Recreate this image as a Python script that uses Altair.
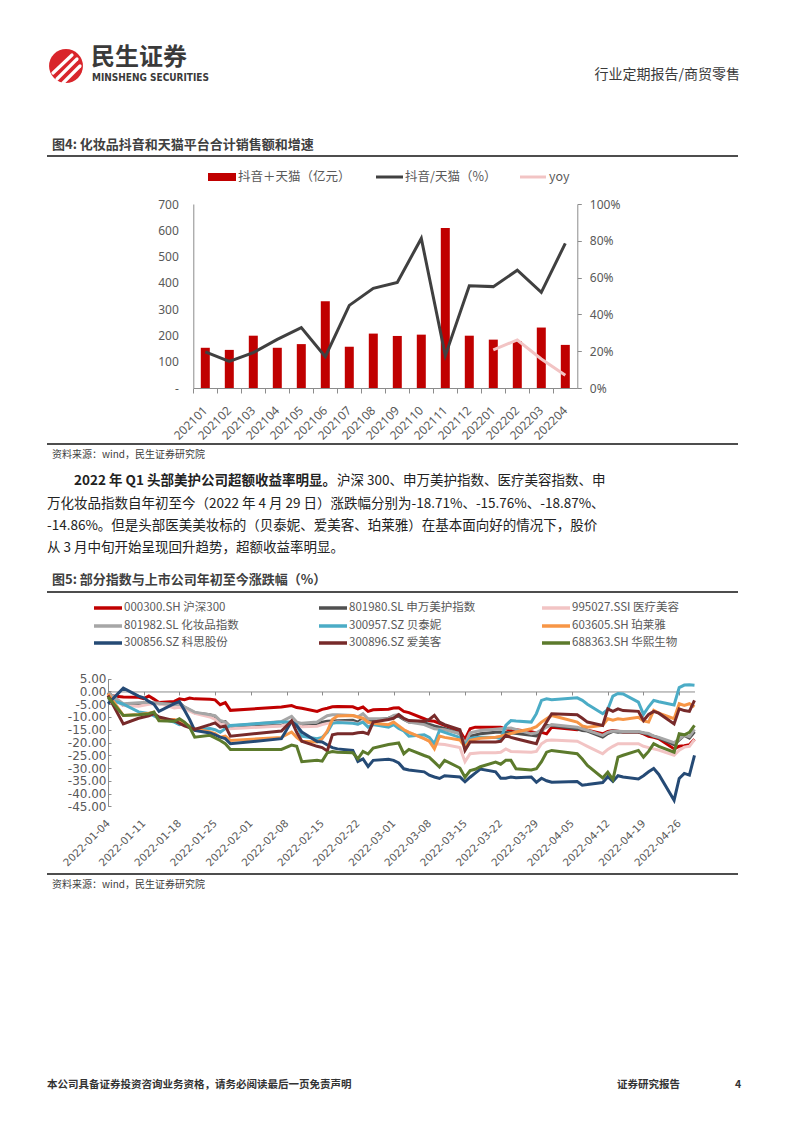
import altair as alt
import pandas as pd

W, H = 778, 1107
CN = "Noto Sans CJK SC"

# ---------------- Figure 4 data ----------------
months = ["202101", "202102", "202103", "202104", "202105", "202106", "202107", "202108",
          "202109", "202110", "202111", "202112", "202201", "202202", "202203", "202204"]
sales = [153, 145, 199, 153, 167, 330, 157, 207, 198, 203, 609, 199, 184, 178, 230, 164]
share = [19.6, 14.5, 19.2, 26.4, 32.8, 17.0, 44.9, 54.2, 57.4, 81.3, 17.6, 55.6, 55.1, 64.0, 52.0, 78.6]
yoy_months = ["202201", "202202", "202203", "202204"]
yoy = [20.7, 26.1, 15.8, 6.9]
left_ticks = [0, 100, 200, 300, 400, 500, 600, 700]
right_ticks = [0, 20, 40, 60, 80, 100]
legend4 = ["抖音＋天猫（亿元）", "抖音/天猫（%）", "yoy"]

# ---------------- Figure 5 data ----------------
series_names = ["000300.SH 沪深300", "801980.SL 申万美护指数", "995027.SSI 医疗美容",
                "801982.SL 化妆品指数", "300957.SZ 贝泰妮", "603605.SH 珀莱雅",
                "300856.SZ 科思股份", "300896.SZ 爱美客", "688363.SH 华熙生物"]
series_colors = ["#c00000", "#505050", "#f2c4c4", "#a6a6a6", "#4bacc6", "#f79646",
                 "#254a75", "#772a2a", "#5c7a2c"]

s_000300 = [("01-04", -1.6), ("01-07", -2.2), ("01-10", -2.3), ("01-11", -2.8), ("01-12", -1.8), ("01-13", -3.0),
            ("01-14", -4.3), ("01-17", -3.9), ("01-18", -2.9), ("01-19", -3.2), ("01-20", -2.6), ("01-21", -2.9),
            ("01-24", -3.1), ("01-25", -3.3), ("01-26", -5.2), ("01-27", -4.4), ("01-28", -7.4), ("02-07", -6.1),
            ("02-09", -5.5), ("02-10", -6.3), ("02-11", -6.6), ("02-14", -7.8), ("02-15", -7.0), ("02-16", -6.6),
            ("02-17", -6.0), ("02-18", -5.9), ("02-21", -6.0), ("02-22", -6.8), ("02-23", -6.1), ("02-24", -7.8),
            ("02-25", -7.2), ("02-28", -7.0), ("03-01", -6.5), ("03-02", -6.4), ("03-03", -7.8), ("03-04", -8.3),
            ("03-07", -10.7), ("03-08", -11.5), ("03-09", -11.7), ("03-10", -12.5), ("03-11", -13.3), ("03-14", -15.5),
            ("03-15", -18.8), ("03-16", -14.6), ("03-17", -14.0), ("03-18", -14.0), ("03-21", -14.0), ("03-22", -14.0),
            ("03-24", -15.3), ("03-25", -15.0), ("03-28", -15.8), ("03-29", -16.3), ("03-30", -16.0), ("03-31", -16.6),
            ("04-01", -14.0), ("04-06", -15.0), ("04-07", -14.6), ("04-08", -15.2), ("04-11", -16.6), ("04-12", -15.7),
            ("04-13", -15.3), ("04-14", -15.6), ("04-15", -15.9), ("04-18", -15.9), ("04-19", -16.6), ("04-20", -17.6),
            ("04-21", -18.0), ("04-22", -18.5), ("04-25", -22.5), ("04-26", -21.5), ("04-27", -21.3), ("04-28", -20.9),
            ("04-29", -18.7)]
s_801980 = [("01-04", -0.4), ("01-07", -5.5), ("01-10", -4.8), ("01-12", -4.3), ("01-14", -4.8), ("01-17", -4.8),
            ("01-18", -4.4), ("01-19", -6.2), ("01-21", -8.4), ("01-24", -9.1), ("01-25", -10.0), ("01-26", -12.0),
            ("01-27", -11.8), ("01-28", -14.0), ("02-07", -13.3), ("02-09", -11.8), ("02-10", -13.2), ("02-11", -13.3),
            ("02-14", -13.0), ("02-15", -12.0), ("02-16", -11.7), ("02-18", -11.5), ("02-21", -11.3), ("02-22", -12.0),
            ("02-23", -10.6), ("02-24", -12.0), ("02-25", -11.4), ("02-28", -10.5), ("03-01", -9.7), ("03-02", -9.7),
            ("03-03", -11.0), ("03-04", -12.0), ("03-07", -12.3), ("03-09", -13.5), ("03-11", -14.5), ("03-14", -16.5),
            ("03-15", -21.0), ("03-16", -17.6), ("03-18", -16.6), ("03-21", -16.0), ("03-22", -15.9), ("03-24", -16.2),
            ("03-28", -17.2), ("03-29", -17.4), ("03-30", -15.6), ("03-31", -13.3), ("04-01", -13.3), ("04-06", -14.6),
            ("04-07", -15.3), ("04-08", -15.5), ("04-11", -17.9), ("04-12", -16.5), ("04-13", -15.6), ("04-14", -16.0),
            ("04-15", -15.8), ("04-18", -15.9), ("04-19", -16.3), ("04-20", -16.9), ("04-21", -17.5), ("04-22", -18.2),
            ("04-25", -20.9), ("04-26", -19.0), ("04-27", -17.2), ("04-28", -18.3), ("04-29", -15.8)]
s_995027 = [("01-04", -1.0), ("01-07", -5.5), ("01-10", -5.8), ("01-12", -5.0), ("01-14", -4.6), ("01-17", -6.5),
            ("01-18", -6.2), ("01-19", -6.8), ("01-21", -8.6), ("01-24", -10.0), ("01-25", -11.0), ("01-26", -12.7),
            ("01-27", -13.0), ("01-28", -14.6), ("02-07", -13.5), ("02-09", -12.0), ("02-10", -13.0), ("02-11", -13.8),
            ("02-14", -13.6), ("02-15", -13.0), ("02-16", -12.5), ("02-18", -12.0), ("02-21", -12.2), ("02-22", -12.8),
            ("02-23", -11.4), ("02-24", -13.8), ("02-25", -13.0), ("02-28", -13.0), ("03-01", -12.5), ("03-02", -13.5),
            ("03-03", -15.0), ("03-04", -16.0), ("03-07", -18.5), ("03-09", -20.5), ("03-11", -20.8), ("03-14", -22.0),
            ("03-15", -27.5), ("03-16", -24.4), ("03-18", -24.0), ("03-21", -24.0), ("03-22", -23.8), ("03-23", -22.5),
            ("03-24", -23.5), ("03-28", -23.8), ("03-29", -23.5), ("03-30", -20.5), ("03-31", -19.2), ("04-01", -19.0),
            ("04-06", -19.5), ("04-07", -20.5), ("04-08", -21.5), ("04-11", -24.4), ("04-12", -22.7), ("04-13", -21.5),
            ("04-14", -20.5), ("04-15", -20.5), ("04-18", -20.5), ("04-19", -21.5), ("04-20", -22.0), ("04-21", -22.5),
            ("04-22", -23.0), ("04-25", -25.0), ("04-26", -23.0), ("04-27", -21.8), ("04-28", -21.5), ("04-29", -18.9)]
s_801982 = [("01-04", -0.5), ("01-07", -4.8), ("01-10", -4.4), ("01-12", -4.2), ("01-14", -4.6), ("01-17", -5.2),
            ("01-18", -5.0), ("01-19", -6.0), ("01-21", -8.1), ("01-24", -9.1), ("01-25", -9.5), ("01-26", -11.4),
            ("01-27", -12.0), ("01-28", -13.5), ("02-07", -11.8), ("02-09", -9.8), ("02-10", -12.0), ("02-11", -12.5),
            ("02-14", -12.0), ("02-15", -10.7), ("02-16", -9.5), ("02-17", -9.1), ("02-18", -9.1), ("02-21", -9.4),
            ("02-22", -10.0), ("02-23", -8.7), ("02-24", -10.7), ("02-25", -10.7), ("02-28", -10.7), ("03-01", -9.4),
            ("03-02", -9.1), ("03-03", -10.7), ("03-04", -12.0), ("03-07", -13.0), ("03-09", -14.6), ("03-11", -15.0),
            ("03-14", -16.5), ("03-15", -20.5), ("03-16", -16.2), ("03-18", -15.3), ("03-21", -14.8), ("03-22", -14.6),
            ("03-24", -14.3), ("03-28", -16.6), ("03-29", -16.2), ("03-30", -15.0), ("03-31", -14.0), ("04-01", -13.0),
            ("04-06", -14.0), ("04-07", -14.6), ("04-08", -15.2), ("04-11", -17.2), ("04-12", -16.0), ("04-13", -15.5),
            ("04-14", -15.6), ("04-15", -15.7), ("04-18", -15.7), ("04-19", -16.2), ("04-20", -16.5), ("04-21", -17.5),
            ("04-22", -18.0), ("04-25", -20.1), ("04-26", -18.6), ("04-27", -17.2), ("04-28", -17.7), ("04-29", -14.9)]
s_300957 = [("01-04", -2.9), ("01-07", -5.0), ("01-10", -8.0), ("01-12", -8.6), ("01-14", -10.5), ("01-17", -12.0),
            ("01-18", -13.0), ("01-19", -12.5), ("01-20", -14.0), ("01-21", -14.9), ("01-24", -14.5), ("01-25", -15.0),
            ("01-26", -16.0), ("01-27", -14.5), ("01-28", -13.3), ("02-07", -12.0), ("02-09", -12.0), ("02-10", -13.0),
            ("02-11", -17.5), ("02-14", -18.5), ("02-15", -18.0), ("02-16", -16.0), ("02-17", -12.5), ("02-18", -12.2),
            ("02-21", -12.5), ("02-22", -12.8), ("02-23", -12.0), ("02-24", -14.0), ("02-25", -13.0), ("02-28", -14.0),
            ("03-01", -13.0), ("03-02", -14.5), ("03-03", -15.5), ("03-04", -17.5), ("03-07", -17.0), ("03-08", -18.0),
            ("03-09", -20.5), ("03-10", -15.3), ("03-11", -16.0), ("03-14", -18.0), ("03-15", -21.0), ("03-16", -18.5),
            ("03-17", -18.0), ("03-18", -17.9), ("03-21", -18.0), ("03-22", -18.5), ("03-23", -13.3), ("03-24", -11.4),
            ("03-25", -11.6), ("03-28", -12.0), ("03-29", -8.7), ("03-30", -3.5), ("03-31", -2.9), ("04-01", -3.2),
            ("04-06", -2.5), ("04-07", -3.5), ("04-08", -5.0), ("04-11", -8.7), ("04-12", -7.0), ("04-13", -1.8),
            ("04-14", -0.8), ("04-15", -1.0), ("04-18", -4.2), ("04-19", -9.0), ("04-20", -6.0), ("04-21", -3.5),
            ("04-22", -4.0), ("04-25", -5.3), ("04-26", 1.5), ("04-27", 2.5), ("04-28", 2.6), ("04-29", 2.4)]
s_603605 = [("01-04", -0.9), ("01-07", -9.4), ("01-10", -9.0), ("01-12", -8.5), ("01-13", -8.1), ("01-14", -11.4),
            ("01-17", -11.0), ("01-19", -12.5), ("01-21", -14.6), ("01-24", -15.9), ("01-25", -16.5), ("01-26", -17.9),
            ("01-27", -17.5), ("01-28", -19.2), ("02-07", -18.0), ("02-09", -15.9), ("02-10", -18.0), ("02-11", -19.5),
            ("02-14", -19.8), ("02-15", -18.5), ("02-16", -15.5), ("02-17", -11.0), ("02-18", -9.6), ("02-21", -9.4),
            ("02-22", -10.0), ("02-23", -10.5), ("02-24", -12.0), ("02-25", -12.5), ("02-28", -13.0), ("03-01", -12.0),
            ("03-02", -13.5), ("03-03", -15.0), ("03-04", -16.0), ("03-07", -18.5), ("03-08", -19.5), ("03-09", -22.5),
            ("03-10", -17.5), ("03-11", -18.0), ("03-14", -19.0), ("03-15", -21.8), ("03-16", -19.2), ("03-18", -18.3),
            ("03-21", -17.9), ("03-22", -17.5), ("03-24", -16.5), ("03-25", -15.9), ("03-28", -14.6), ("03-29", -13.8),
            ("03-30", -12.0), ("03-31", -10.7), ("04-01", -9.4), ("04-06", -12.0), ("04-07", -13.5), ("04-08", -14.0),
            ("04-11", -13.3), ("04-12", -10.7), ("04-13", -11.3), ("04-14", -10.7), ("04-15", -11.0), ("04-18", -10.1),
            ("04-19", -11.5), ("04-20", -12.0), ("04-21", -7.4), ("04-22", -8.5), ("04-25", -10.7), ("04-26", -4.8),
            ("04-27", -5.5), ("04-28", -4.8), ("04-29", -6.0)]
s_300856 = [("01-04", -4.8), ("01-07", 1.3), ("01-10", -1.8), ("01-11", -2.5), ("01-12", -3.9), ("01-13", -5.0),
            ("01-14", -7.8), ("01-17", -4.8), ("01-18", -4.0), ("01-19", -7.4), ("01-20", -11.0), ("01-21", -15.3),
            ("01-24", -16.3), ("01-25", -17.0), ("01-26", -17.9), ("01-27", -18.5), ("01-28", -20.5), ("02-07", -18.5),
            ("02-09", -11.7), ("02-10", -13.5), ("02-11", -15.9), ("02-14", -19.6), ("02-15", -19.8), ("02-16", -21.0),
            ("02-17", -22.0), ("02-18", -22.5), ("02-21", -23.1), ("02-22", -27.4), ("02-23", -26.4), ("02-24", -29.4),
            ("02-25", -27.0), ("02-28", -26.6), ("03-01", -27.0), ("03-02", -28.0), ("03-03", -30.3), ("03-04", -30.8),
            ("03-07", -31.5), ("03-08", -32.8), ("03-09", -33.5), ("03-10", -34.1), ("03-11", -33.0), ("03-14", -33.5),
            ("03-15", -35.4), ("03-16", -33.6), ("03-17", -32.0), ("03-18", -30.4), ("03-21", -31.5), ("03-22", -34.0),
            ("03-23", -34.0), ("03-24", -33.5), ("03-25", -33.8), ("03-28", -33.5), ("03-29", -35.6), ("03-30", -34.0),
            ("03-31", -35.0), ("04-01", -35.6), ("04-06", -35.3), ("04-07", -36.7), ("04-08", -36.5), ("04-11", -35.7),
            ("04-12", -33.4), ("04-13", -35.2), ("04-14", -33.0), ("04-15", -33.5), ("04-18", -34.3), ("04-19", -33.0),
            ("04-20", -31.5), ("04-21", -30.2), ("04-22", -32.5), ("04-25", -42.6), ("04-26", -34.1), ("04-27", -32.1),
            ("04-28", -32.8), ("04-29", -25.0)]
s_300896 = [("01-04", -1.6), ("01-07", -12.7), ("01-10", -10.5), ("01-12", -9.5), ("01-13", -8.7), ("01-14", -10.0),
            ("01-17", -11.4), ("01-19", -13.5), ("01-21", -14.9), ("01-24", -13.0), ("01-25", -12.3), ("01-26", -14.0),
            ("01-27", -13.5), ("01-28", -17.5), ("02-07", -15.5), ("02-09", -11.5), ("02-10", -16.0), ("02-11", -19.5),
            ("02-14", -21.5), ("02-15", -22.0), ("02-16", -23.3), ("02-17", -17.0), ("02-18", -16.6), ("02-21", -16.6),
            ("02-22", -16.2), ("02-23", -16.0), ("02-24", -16.6), ("02-25", -12.0), ("02-28", -11.0), ("03-01", -10.5),
            ("03-02", -9.1), ("03-03", -10.6), ("03-04", -11.4), ("03-07", -11.7), ("03-08", -11.0), ("03-09", -9.4),
            ("03-10", -12.0), ("03-11", -13.0), ("03-14", -15.0), ("03-15", -23.1), ("03-16", -19.8), ("03-18", -19.8),
            ("03-21", -19.8), ("03-22", -19.5), ("03-23", -17.2), ("03-24", -18.0), ("03-25", -18.5), ("03-28", -20.0),
            ("03-29", -20.5), ("03-30", -15.3), ("03-31", -12.0), ("04-01", -8.7), ("04-06", -9.1), ("04-07", -10.5),
            ("04-08", -12.0), ("04-11", -13.3), ("04-12", -6.8), ("04-13", -7.8), ("04-14", -6.8), ("04-15", -7.5),
            ("04-18", -7.8), ("04-19", -11.4), ("04-20", -9.0), ("04-21", -7.8), ("04-22", -8.5), ("04-25", -12.7),
            ("04-26", -6.8), ("04-27", -7.5), ("04-28", -7.8), ("04-29", -3.5)]
s_688363 = [("01-04", -2.2), ("01-07", -9.4), ("01-10", -9.1), ("01-12", -8.7), ("01-13", -8.1), ("01-14", -11.5),
            ("01-17", -11.7), ("01-18", -10.7), ("01-19", -12.0), ("01-20", -14.0), ("01-21", -17.9), ("01-24", -17.2),
            ("01-26", -19.2), ("01-27", -20.5), ("01-28", -22.7), ("02-07", -22.7), ("02-09", -21.0), ("02-10", -21.5),
            ("02-11", -27.5), ("02-14", -27.0), ("02-15", -27.3), ("02-16", -24.0), ("02-17", -23.5), ("02-18", -23.8),
            ("02-21", -24.0), ("02-22", -26.4), ("02-23", -23.5), ("02-24", -24.5), ("02-25", -22.2), ("02-28", -20.8),
            ("03-01", -20.5), ("03-02", -20.2), ("03-03", -24.4), ("03-04", -22.7), ("03-07", -25.1), ("03-08", -25.8),
            ("03-09", -27.7), ("03-10", -29.6), ("03-11", -27.0), ("03-14", -30.0), ("03-15", -33.6), ("03-16", -31.0),
            ("03-17", -30.5), ("03-18", -29.5), ("03-21", -27.7), ("03-22", -28.5), ("03-23", -27.0), ("03-24", -27.0),
            ("03-25", -30.3), ("03-28", -30.8), ("03-29", -30.3), ("03-30", -27.5), ("03-31", -23.8), ("04-01", -23.1),
            ("04-06", -24.4), ("04-07", -26.5), ("04-08", -29.0), ("04-11", -33.9), ("04-12", -31.6), ("04-13", -34.5),
            ("04-14", -25.7), ("04-15", -25.0), ("04-18", -23.1), ("04-19", -25.7), ("04-20", -23.5), ("04-21", -20.5),
            ("04-22", -21.5), ("04-25", -23.8), ("04-26", -16.6), ("04-27", -17.0), ("04-28", -16.0), ("04-29", -13.3)]
all_series = [s_000300, s_801980, s_995027, s_801982, s_300957, s_603605, s_300856, s_300896, s_688363]
date_ticks = ["01-04", "01-11", "01-18", "01-25", "02-01", "02-08", "02-15", "02-22", "03-01",
              "03-08", "03-15", "03-22", "03-29", "04-05", "04-12", "04-19", "04-26"]
y5_ticks = [-45, -40, -35, -30, -25, -20, -15, -10, -5, 0, 5]

BASE = pd.Timestamp("2022-01-04")


def day(md):
    return (pd.Timestamp("2022-" + md) - BASE).days


rows = []
for name, pts in zip(series_names, all_series):
    for md, v in pts:
        rows.append({"series": name, "d": day(md), "v": v})
df5 = pd.DataFrame(rows)
tick_days = [day(md) for md in date_ticks]

dummy = pd.DataFrame({"a": [0]})


def text(s, x, y, size, color="#333333", bold=False, align="left", font=CN):
    return alt.Chart(pd.DataFrame({"t": [s]})).mark_text(
        align=align, baseline="middle", font=font, fontSize=size,
        fontWeight="bold" if bold else "normal", color=color
    ).encode(x=alt.value(x), y=alt.value(y), text="t:N")


def seg(x1, y1, x2, y2, color, width, cap="butt"):
    return alt.Chart(dummy).mark_rule(color=color, strokeWidth=width, strokeCap=cap).encode(
        x=alt.value(x1), y=alt.value(y1), x2=alt.value(x2), y2=alt.value(y2))


layers = []

# ---------------- header ----------------
layers.append(alt.Chart(dummy).mark_circle(size=1150, color="#d9252b", opacity=1).encode(
    x=alt.value(58), y=alt.value(58)))
layers.append(seg(45, 65, 64, 47, "white", 3.2, "round"))
layers.append(seg(49, 71, 69, 51, "white", 3.2, "round"))
layers.append(seg(55, 75, 72, 58, "white", 3.2, "round"))
layers.append(text("民生证券", 83, 50, 24, "#3a3a3a", bold=True))
layers.append(text("MINSHENG SECURITIES", 84, 70, 10, "#3a3a3a", bold=True,
                   font="Liberation Sans Narrow, DejaVu Sans Condensed, sans-serif"))
layers.append(text("行业定期报告/商贸零售", 732, 67, 14, "#3a3a3a", align="right"))

# ---------------- figure 4 ----------------
layers.append(text("图4: 化妆品抖音和天猫平台合计销售额和增速", 44, 137, 13, "#404040", bold=True))
layers.append(seg(39, 148, 730, 148, "#4d4d4d", 2.2))

layers.append(alt.Chart(dummy).mark_rect(color="#c00000").encode(
    x=alt.value(200), x2=alt.value(228), y=alt.value(165), y2=alt.value(173)))
layers.append(text(legend4[0], 230, 169, 12.5, "#595959"))
layers.append(seg(368, 169, 395, 169, "#404040", 3))
layers.append(text(legend4[1], 397, 169, 12.5, "#595959"))
layers.append(seg(512, 169, 538, 169, "#f2c4c4", 3))
layers.append(text(legend4[2], 541, 169, 12.5, "#595959"))

X0, X1 = 185.3, 569.3
Y0, Y1 = 380, 196
AX = "#8c8c8c"
LF = "Noto Sans"

df4 = pd.DataFrame({"month": months, "sales": sales, "share": share})
dfy = pd.DataFrame({"month": yoy_months, "yoy": yoy})

bars = alt.Chart(df4).mark_bar(color="#c00000").encode(
    x=alt.X("month:N", sort=months,
            scale=alt.Scale(type="band", domain=months, range=[X0, X1], paddingInner=0.625, paddingOuter=0.3125),
            axis=alt.Axis(orient="bottom", offset=Y0 - H, title=None, labelAngle=-45, labelAlign="right",
                          labelBaseline="middle", labelPadding=20, ticks=False, domainColor=AX,
                          labelFont=LF, labelFontSize=12, labelColor="#595959", grid=False,
                          labelOverlap=False)),
    y=alt.Y("sales:Q", scale=alt.Scale(domain=[0, 700], range=[Y0, Y1], nice=False),
            axis=alt.Axis(orient="left", offset=-X0, values=left_ticks,
                          labelExpr="datum.value == 0 ? '-' : datum.label", ticks=False, labelPadding=15,
                          domainColor=AX, grid=False, title=None, labelFont=LF, labelFontSize=12,
                          labelColor="#595959")),
)
ticks4 = alt.Chart(df4).mark_bar(opacity=0).encode(
    x=alt.X("month:N", sort=months,
            scale=alt.Scale(type="band", domain=months, range=[X0, X1], paddingInner=0, paddingOuter=0),
            axis=alt.Axis(orient="bottom", offset=Y0 - H, bandPosition=0, labels=False, ticks=True,
                          tickSize=5, tickColor=AX, domain=False, grid=False, title=None)),
    y=alt.Y("sales:Q", scale=alt.Scale(domain=[0, 700], range=[Y0, Y1], nice=False), axis=None),
)
pt_scale = dict(type="point", domain=months, range=[X0, X1], padding=0.5)
line4 = alt.Chart(df4).mark_line(color="#404040", strokeWidth=3).encode(
    x=alt.X("month:N", sort=months, scale=alt.Scale(**pt_scale), axis=None),
    y=alt.Y("share:Q", scale=alt.Scale(domain=[0, 100], range=[Y0, Y1], nice=False),
            axis=alt.Axis(orient="right", offset=X1 - W, values=right_ticks, labelExpr="datum.value + '%'",
                          tickSize=4, tickColor=AX, labelPadding=8, domainColor=AX, grid=False, title=None,
                          labelFont=LF, labelFontSize=12, labelColor="#595959")),
)
yoy4 = alt.Chart(dfy).mark_line(color="#f2c4c4", strokeWidth=3).encode(
    x=alt.X("month:N", sort=months, scale=alt.Scale(**pt_scale), axis=None),
    y=alt.Y("yoy:Q", scale=alt.Scale(domain=[0, 100], range=[Y0, Y1], nice=False), axis=None),
)
layers += [ticks4, bars, line4, yoy4]

layers.append(seg(39, 436, 730, 436, "#4d4d4d", 2))
layers.append(text("资料来源：wind，民生证券研究院", 44, 447, 10, "#404040"))

# ---------------- paragraph ----------------
PC = "#222222"
layers.append(text("2022 年 Q1 头部美护公司超额收益率明显。", 66, 473, 13.5, PC, bold=True))
layers.append(text("沪深 300、申万美护指数、医疗美容指数、申", 329, 473, 13.5, PC))
layers.append(text("万化妆品指数自年初至今（2022 年 4 月 29 日）涨跌幅分别为-18.71%、-15.76%、-18.87%、",
                   39, 496, 13.5, PC))
layers.append(text("-14.86%。但是头部医美美妆标的（贝泰妮、爱美客、珀莱雅）在基本面向好的情况下，股价",
                   39, 518, 13.5, PC))
layers.append(text("从 3 月中旬开始呈现回升趋势，超额收益率明显。", 39, 540, 13.5, PC))

# ---------------- figure 5 ----------------
layers.append(text("图5: 部分指数与上市公司年初至今涨跌幅（%）", 44, 572, 13, "#404040", bold=True))
layers.append(seg(39, 584, 730, 584, "#4d4d4d", 2.2))

col_x = [86, 311, 534]
row_y = [600, 618, 635]
for i, (name, col) in enumerate(zip(series_names, series_colors)):
    cx, ry = col_x[i % 3], row_y[i // 3]
    layers.append(seg(cx, ry, cx + 28, ry, col, 3.5))
    layers.append(text(name, cx + 30, ry, 11.5, "#595959"))

PX0, PX1 = 100.0, 686.5
PY0, PY1 = 798.3, 670.7
xs5 = dict(domain=[0, 115], range=[PX0, PX1], nice=False, zero=False)
ys5 = dict(domain=[-45, 5], range=[PY0, PY1], nice=False, zero=False)
ZERO_Y = PY0 - (PY0 - PY1) * 45 / 50
LBL = "replace(format(datum.value, '.2f'), '\u2212', '-')"
DLBL = "timeFormat(datetime(2022, 0, 4 + datum.value), '%Y-%m-%d')"

lines5 = alt.Chart(df5).mark_line(strokeWidth=3).encode(
    x=alt.X("d:Q", scale=alt.Scale(**xs5),
            axis=alt.Axis(orient="bottom", offset=PY0 - H, values=tick_days, labelExpr=DLBL, labelAngle=-45,
                          labelAlign="right", labelBaseline="middle", labelPadding=15, ticks=False,
                          domain=False, grid=False, title=None, labelFont="DejaVu Sans", labelFontSize=10.5,
                          labelColor="#595959", labelOverlap=False, labelFlush=False)),
    y=alt.Y("v:Q", scale=alt.Scale(**ys5),
            axis=alt.Axis(orient="left", offset=-PX0, values=y5_ticks, labelExpr=LBL, ticks=False,
                          labelPadding=2, domainColor=AX, grid=False, title=None, labelFont="DejaVu Sans",
                          labelFontSize=12, labelColor="#595959", labelOverlap=False, labelFlush=False)),
    color=alt.Color("series:N", scale=alt.Scale(domain=series_names, range=series_colors), legend=None),
    detail="series:N",
)
axes5 = alt.Chart(df5).mark_line(strokeOpacity=0).encode(
    x=alt.X("d:Q", scale=alt.Scale(**xs5),
            axis=alt.Axis(orient="bottom", offset=ZERO_Y - H, values=tick_days, labels=False, ticks=True,
                          tickSize=3.5, tickColor=AX, domainColor=AX, grid=False, title=None)),
    y=alt.Y("v:Q", scale=alt.Scale(**ys5),
            axis=alt.Axis(orient="right", offset=PX0 - W, values=y5_ticks, labels=False, ticks=True,
                          tickSize=3, tickColor=AX, domain=False, grid=False, title=None)),
    detail="series:N",
)
layers += [axes5, lines5]

layers.append(seg(39, 866, 730, 866, "#4d4d4d", 2))
layers.append(text("资料来源：wind，民生证券研究院", 44, 877, 10, "#404040"))

# ---------------- footer ----------------
layers.append(text("本公司具备证券投资咨询业务资格，请务必阅读最后一页免责声明", 39, 1077, 10.5, "#333333", bold=True))
layers.append(text("证券研究报告", 609, 1077, 10.5, "#333333", bold=True))
layers.append(text("4", 727, 1077, 10.5, "#333333", bold=True))

chart = alt.layer(*layers).resolve_scale(
    x="independent", y="independent", color="independent"
).properties(
    width=W, height=H, autosize=alt.AutoSizeParams(type="none"), padding=0, background="white"
).configure_view(strokeWidth=0)

chart.save("out.html", embed_options={"renderer": "svg", "actions": False})
